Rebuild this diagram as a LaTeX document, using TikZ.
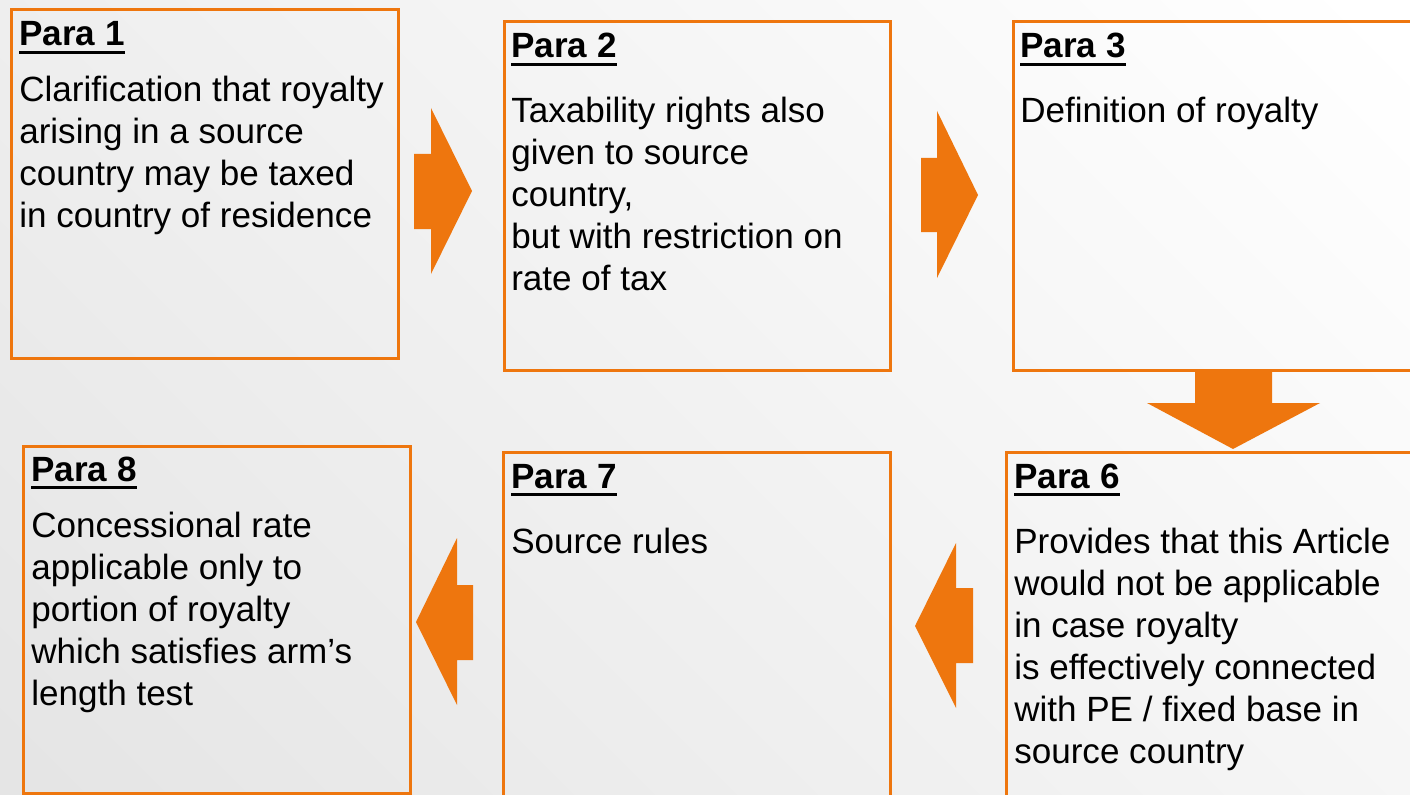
\documentclass[tikz,border=0pt]{standalone}
\usepackage{fontspec}
\setmainfont{Liberation Sans}
\definecolor{flowOrange}{RGB}{238,118,14}
\definecolor{paneGray}{RGB}{229,229,229}
\newcommand\bodysize{\fontsize{26.3pt}{31.5pt}\selectfont}
% bold heading with a thick underline
\newcommand\parahead[1]{\setbox0\hbox{\bfseries #1}\rlap{\rule[-6pt]{\wd0}{2.3pt}}\box0}
\newcommand\lines[1]{\begin{tabular}[t]{@{}l@{}}#1\end{tabular}}
\begin{document}
\begin{tikzpicture}[x=0.75pt,y=-0.75pt,
  parabox/.style={draw=flowOrange, line width=2.25pt, rectangle, inner sep=0pt, anchor=north west},
  headtext/.style={anchor=base west, inner sep=0pt, font=\bodysize},
  bodytext/.style={anchor=base west, inner sep=0pt, font=\bodysize},
  blockarrow/.style={fill=flowOrange, draw=none}]
\useasboundingbox (0,0) rectangle (1410,795);
\clip (0,0) rectangle (1410,795);
% soft diagonal backdrop
\shade[top color=white, bottom color=paneGray, shading angle=-45] (-200,-200) rectangle (1610,995);

% boxes
\node[parabox, minimum width=290pt,    minimum height=262pt] (p1) at (10,8) {};
\node[parabox, minimum width=289.5pt,  minimum height=262pt] (p2) at (503,20) {};
\node[parabox, minimum width=306pt,    minimum height=262pt] (p3) at (1012,20) {};
\node[parabox, minimum width=290pt,    minimum height=260.5pt] (p8) at (22,445) {};
\node[parabox, minimum width=290pt,    minimum height=269.25pt] (p7) at (502,451) {};
\node[parabox, minimum width=311.25pt, minimum height=269.25pt] (p6) at (1005,451) {};

% texts
\node[headtext] (h1) at (19,46) {\parahead{Para 1}};
\node[bodytext] (b1) at (19,102) {\lines{Clarification that royalty\\arising in a source\\country may be taxed\\in country of residence}};

\node[headtext] (h2) at (511,58) {\parahead{Para 2}};
\node[bodytext] (b2) at (511,123) {\lines{Taxability rights also\\given to source\\country,\\but with restriction on\\rate of tax}};

\node[headtext] (h3) at (1020,58) {\parahead{Para 3}};
\node[bodytext] (b3) at (1020,123) {\lines{Definition of royalty}};

\node[headtext] (h6) at (1014,488) {\parahead{Para 6}};
\node[bodytext] (b6) at (1014,553) {\lines{Provides that this Article\\would not be applicable\\in case royalty\\is effectively connected\\with PE / fixed base in\\source country}};

\node[headtext] (h7) at (511,488) {\parahead{Para 7}};
\node[bodytext] (b7) at (511,553) {\lines{Source rules}};

\node[headtext] (h8) at (31,481) {\parahead{Para 8}};
\node[bodytext] (b8) at (31,537) {\lines{Concessional rate\\applicable only to\\portion of royalty\\which satisfies arm’s\\length test}};

% block arrows between the boxes
\fill[blockarrow] (414,154) -- (431,154) -- (431,108) -- (472,191) -- (431,274) -- (431,229) -- (414,229) -- cycle;
\fill[blockarrow] (921,158) -- (937,158) -- (937,111) -- (978,195) -- (937,278) -- (937,232) -- (921,232) -- cycle;
\fill[blockarrow] (1195,370) -- (1272,370) -- (1272,403) -- (1320,403) -- (1233,449) -- (1147,403) -- (1195,403) -- cycle;
\fill[blockarrow] (973,588) -- (956,588) -- (956,543) -- (915,626) -- (956,708) -- (956,663) -- (973,663) -- cycle;
\fill[blockarrow] (473,585) -- (457,585) -- (457,538) -- (416,622) -- (457,705) -- (457,660) -- (473,660) -- cycle;
\end{tikzpicture}
\end{document}
